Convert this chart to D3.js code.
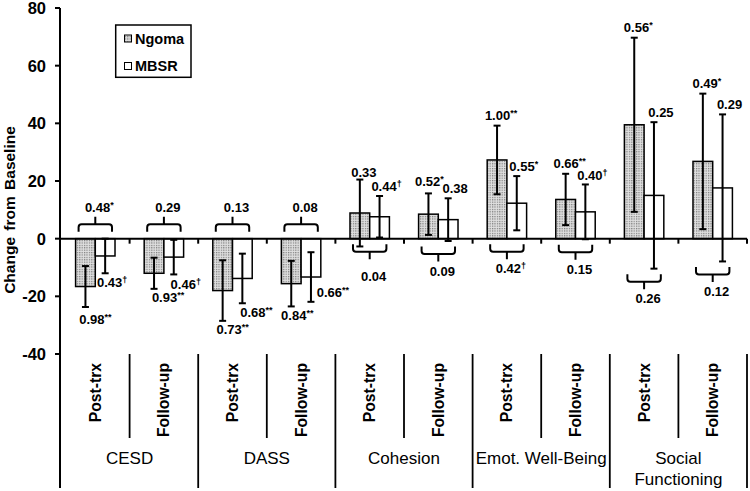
<!DOCTYPE html>
<html>
<head>
<meta charset="utf-8">
<script src="https://cdn.jsdelivr.net/npm/d3@7"></script>
<style>
  body { margin: 0; background: #fff; }
  svg text { font-family: "Liberation Sans", Arial, sans-serif; fill: #000; }
  .num { font-size: 13px; font-weight: bold; }
</style>
</head>
<body>
<div id="chart"></div>
<script>
// ---- data ----
var groups = ["CESD", "DASS", "Cohesion", "Emot. Well-Being", "Social Functioning"];
var groupLines = [["CESD"], ["DASS"], ["Cohesion"], ["Emot. Well-Being"], ["Social", "Functioning"]];
var phases = ["Post-trx", "Follow-up"];
var series = ["Ngoma", "MBSR"];

var ngomaMean = [-16.6, -12.0, -18.0, -15.6, 8.9, 8.5, 27.3, 13.6, 39.5, 26.8];
var ngomaErr  = [7.1, 5.4, 10.5, 7.9, 11.6, 7.2, 11.9, 8.9, 30.2, 23.5];
var mbsrMean  = [-6.0, -6.4, -13.8, -13.3, 7.6, 6.6, 12.3, 9.3, 15.0, 17.6];
var mbsrErr   = [6.0, 6.0, 8.6, 8.6, 7.2, 7.4, 9.4, 9.5, 25.4, 25.5];

var ngomaES = ["0.98**", "0.93**", "0.73**", "0.84**", "0.33", "0.52*", "1.00**", "0.66**", "0.56*", "0.49*"];
var mbsrES  = ["0.43†", "0.46†", "0.68**", "0.66**", "0.44†", "0.38", "0.55*", "0.40†", "0.25", "0.29"];
var diffES  = ["0.48*", "0.29", "0.13", "0.08", "0.04", "0.09", "0.42†", "0.15", "0.26", "0.12"];

var yTicks = [80, 60, 40, 20, 0, -20, -40];

// layout tweaks (pixels) for the hand placed labels of the original
var ngomaNudge = { 0: [0, 3], 1: [4, 0], 3: [-4, 0], 4: [0, 3], 5: [-3, -2] };
var mbsrNudge = { 1: [5, 0], 2: [7, 0] };
var mbsrSide = { 3: true };
var diffDrop = { 4: 8 };

var W = 750, H = 491;

var cats = [];
groups.forEach(function (g) { phases.forEach(function (p) { cats.push(g + "|" + p); }); });

var svg = d3.select("#chart").append("svg").attr("width", W).attr("height", H);

var defs = svg.append("defs");
var pat = defs.append("pattern").attr("id", "dots").attr("patternUnits", "userSpaceOnUse")
  .attr("width", 2.4).attr("height", 2.4);
pat.append("rect").attr("width", 2.4).attr("height", 2.4).attr("fill", "#e0e0e0");
pat.append("rect").attr("width", 1.2).attr("height", 1.2).attr("fill", "#7a7a7a");

var y = d3.scaleLinear().domain([-40, 80]).range([354, 8]);
var x = d3.scaleBand().domain(cats).range([61, 747]).paddingInner(0).paddingOuter(0);
var xs = d3.scaleBand().domain(series).range([0, x.bandwidth()]).paddingInner(0).paddingOuter(0.74);

var rows = cats.map(function (c, i) {
  return { key: c, i: i, ng: ngomaMean[i], ngE: ngomaErr[i], mb: mbsrMean[i], mbE: mbsrErr[i] };
});

// ---- bars ----
var barG = svg.append("g");
rows.forEach(function (d) {
  [["Ngoma", d.ng, "url(#dots)"], ["MBSR", d.mb, "#fff"]].forEach(function (s) {
    barG.append("rect")
      .attr("x", x(d.key) + xs(s[0]))
      .attr("y", y(Math.max(0, s[1])))
      .attr("width", xs.bandwidth())
      .attr("height", Math.abs(y(s[1]) - y(0)))
      .attr("fill", s[2]).attr("stroke", "#000").attr("stroke-width", 1.5);
  });
});

// ---- error bars ----
var errG = svg.append("g").attr("stroke", "#000").attr("stroke-width", 2).attr("fill", "none");
function errorBar(cx, m, e) {
  errG.append("line").attr("x1", cx).attr("x2", cx).attr("y1", y(m + e)).attr("y2", y(m - e));
  [m + e, m - e].forEach(function (v) {
    errG.append("line").attr("x1", cx - 3.5).attr("x2", cx + 3.5).attr("y1", y(v)).attr("y2", y(v));
  });
}
rows.forEach(function (d) {
  errorBar(x(d.key) + xs("Ngoma") + xs.bandwidth() / 2, d.ng, d.ngE);
  errorBar(x(d.key) + xs("MBSR") + xs.bandwidth() / 2, d.mb, d.mbE);
});

// ---- axes ----
var axG = svg.append("g").attr("stroke", "#000").attr("stroke-width", 2);
axG.append("line").attr("x1", 60).attr("x2", 60).attr("y1", y(80)).attr("y2", 488);
axG.append("line").attr("x1", 60).attr("x2", x.range()[1]).attr("y1", y(0)).attr("y2", y(0));
yTicks.forEach(function (t) {
  axG.append("line").attr("x1", 55).attr("x2", 60).attr("y1", y(t)).attr("y2", y(t));
});
cats.forEach(function (c) {
  var bx = x(c) + x.step();
  axG.append("line").attr("x1", bx).attr("x2", bx).attr("y1", y(0)).attr("y2", y(0) + 5);
});

svg.append("g").selectAll("text").data(yTicks).enter().append("text")
  .attr("x", 46).attr("y", function (d) { return y(d); })
  .attr("text-anchor", "end").attr("dominant-baseline", "central")
  .style("font-size", "16.5px").style("font-weight", "bold")
  .text(function (d) { return d; });

svg.append("text")
  .attr("transform", "translate(9," + 210 + ") rotate(-90)")
  .attr("text-anchor", "middle").attr("dominant-baseline", "central")
  .style("font-size", "15.5px").style("font-weight", "bold").style("word-spacing", "2px")
  .text("Change from Baseline");

// ---- category axis below the plot ----
var catG = svg.append("g").attr("stroke", "#000").attr("stroke-width", 1.8);
cats.forEach(function (c, i) {
  var bx = x(c);
  if (i % 2 === 1) {
    catG.append("line").attr("x1", bx).attr("x2", bx).attr("y1", y(-40)).attr("y2", 438);
  } else if (i > 0) {
    catG.append("line").attr("x1", bx).attr("x2", bx).attr("y1", y(-40)).attr("y2", 488);
  }
});
var xEnd = x.range()[1];
catG.append("line").attr("x1", xEnd).attr("x2", xEnd).attr("y1", y(-40)).attr("y2", 488);

svg.append("g").selectAll("text").data(cats).enter().append("text")
  .attr("transform", function (d) {
    return "translate(" + (x(d) + x.bandwidth() / 2) + ",363) rotate(-90)";
  })
  .attr("text-anchor", "end").attr("dominant-baseline", "central")
  .style("font-size", "15.7px").style("font-weight", "bold")
  .text(function (d) { return d.split("|")[1]; });

groups.forEach(function (g, gi) {
  var gx = x(g + "|" + phases[0]) + x.step();
  var t = svg.append("text").attr("text-anchor", "middle").style("font-size", "17px");
  groupLines[gi].forEach(function (ln, li) {
    t.append("tspan").attr("x", gx).attr("y", 458.5 + li * 20.7)
      .attr("dominant-baseline", "central").text(ln);
  });
});

// ---- effect size labels ----
function esLabel(cx, cy, str, nudge) {
  var n = nudge || [0, 0];
  var m = str.match(/^([\d.]+)(.*)$/);
  var t = svg.append("text").attr("class", "num").attr("x", cx + n[0]).attr("y", cy + n[1] + 4.6)
    .attr("text-anchor", "middle");
  t.append("tspan").text(m[1]);
  if (m[2]) {
    t.append("tspan").attr("dy", -4).style("font-size", "9px").text(m[2]);
  }
}

rows.forEach(function (d) {
  var nx = x(d.key) + xs("Ngoma") + xs.bandwidth() / 2;
  var mx = x(d.key) + xs("MBSR") + xs.bandwidth() / 2;
  if (d.ng >= 0) esLabel(nx + 4, y(d.ng + d.ngE) - 10, ngomaES[d.i], ngomaNudge[d.i]);
  else esLabel(nx + 10, y(d.ng - d.ngE) + 9, ngomaES[d.i], ngomaNudge[d.i]);
  if (mbsrSide[d.i]) esLabel(mx + 22, y(d.mb - d.mbE) - 9, mbsrES[d.i]);
  else if (d.mb >= 0) esLabel(mx + 7, y(d.mb + d.mbE) - 9.5, mbsrES[d.i], mbsrNudge[d.i]);
  else esLabel(mx + 7, y(d.mb - d.mbE) + 9.5, mbsrES[d.i], mbsrNudge[d.i]);
});

// ---- between-group braces ----
var braceG = svg.append("g").attr("stroke", "#000").attr("stroke-width", 2).attr("fill", "none");
function bracePath(x1, x2, yEnds, dir) {
  var r = 3, yMid = yEnds + dir * 7.5, yTip = yEnds + dir * 15, xc = (x1 + x2) / 2;
  return "M" + x1 + "," + yEnds + "V" + (yMid - dir * r) +
    "Q" + x1 + "," + yMid + " " + (x1 + r) + "," + yMid +
    "H" + (x2 - r) + "Q" + x2 + "," + yMid + " " + x2 + "," + (yMid - dir * r) +
    "V" + yEnds + "M" + xc + "," + yMid + "V" + yTip;
}
rows.forEach(function (d) {
  var x1 = x(d.key) + xs("Ngoma") + 3;
  var x2 = x(d.key) + xs("MBSR") + xs.bandwidth() - 3;
  var dir, yEnds;
  if (d.ng < 0) {
    dir = -1;
    yEnds = y(0) - 7;
  } else {
    dir = 1;
    yEnds = Math.max(y(0), y(d.mb - d.mbE)) + 5.5;
  }
  braceG.append("path").attr("d", bracePath(x1, x2, yEnds, dir));
  esLabel((x1 + x2) / 2 + 4, yEnds + dir * 24.5 + (diffDrop[d.i] || 0), diffES[d.i]);
});

// ---- legend ----
var lg = svg.append("g");
lg.append("rect").attr("x", 115.7).attr("y", 25).attr("width", 75.3).attr("height", 52.3)
  .attr("fill", "#fff").attr("stroke", "#000").attr("stroke-width", 1.5);
[["Ngoma", "url(#dots)", 38.5], ["MBSR", "#fff", 66]].forEach(function (s) {
  lg.append("rect").attr("x", 124.5).attr("y", s[2] - 3.5).attr("width", 7).attr("height", 7)
    .attr("fill", s[1]).attr("stroke", "#000").attr("stroke-width", 1);
  lg.append("text").attr("x", 135).attr("y", s[2]).attr("dominant-baseline", "central")
    .style("font-size", "14.5px").style("font-weight", "bold").text(s[0]);
});
</script>
</body>
</html>
